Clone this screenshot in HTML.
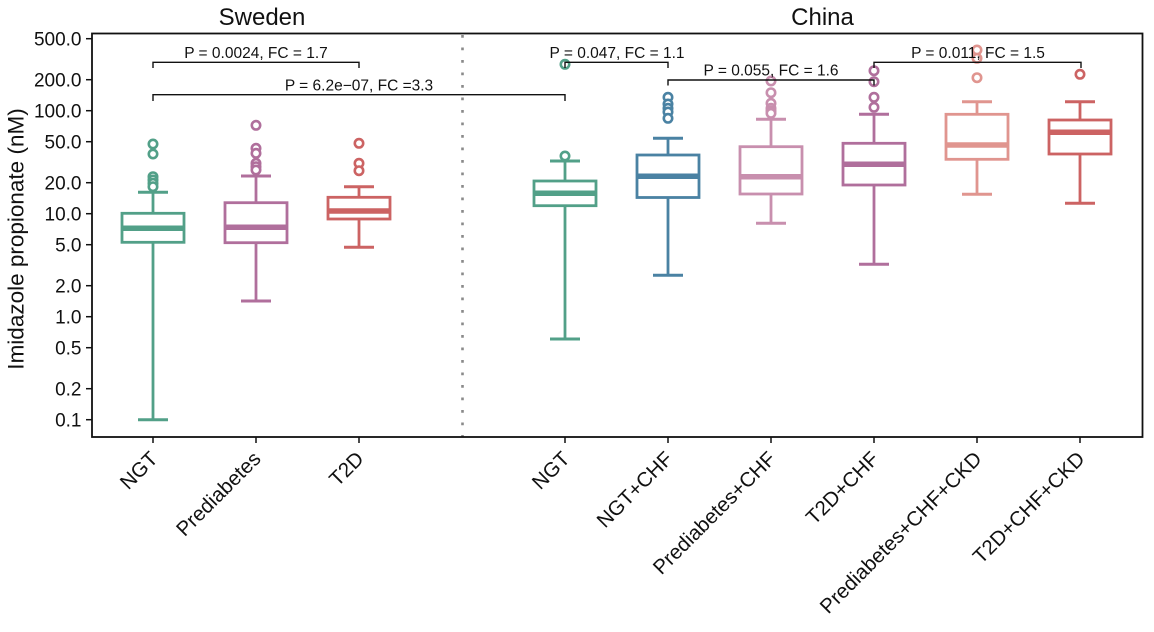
<!DOCTYPE html>
<html>
<head>
<meta charset="utf-8">
<style>
  html, body { margin: 0; padding: 0; background: #ffffff; }
  svg { display: block; font-family: "Liberation Sans", Arial, sans-serif; }
</style>
</head>
<body>
<svg width="1154" height="632" viewBox="0 0 1154 632" xmlns="http://www.w3.org/2000/svg">
  <rect x="0" y="0" width="1154" height="632" fill="#ffffff"/>

  <!-- Titles -->
  <text x="262" y="25" font-size="24" text-anchor="middle" fill="#111">Sweden</text>
  <text x="822.5" y="25" font-size="24" text-anchor="middle" fill="#111">China</text>

  <!-- Dotted separator -->
  <line x1="462.5" y1="35" x2="462.5" y2="437" stroke="#8a8a8a" stroke-width="2.6" stroke-dasharray="2.8 9.7"/>

  <!-- Boxes -->
  <g fill="#ffffff" stroke-width="2.8" stroke-linecap="butt">
    <!-- Sweden NGT -->
    <g stroke="#52a088">
      <line x1="153" y1="192.3" x2="153" y2="213.3"/>
      <line x1="153" y1="242.3" x2="153" y2="419.7"/>
      <line x1="138" y1="192.3" x2="168" y2="192.3" stroke-width="3"/>
      <line x1="138" y1="419.7" x2="168" y2="419.7" stroke-width="3"/>
      <rect x="122" y="213.3" width="62" height="29"/>
      <line x1="123" y1="228.3" x2="183" y2="228.3" stroke-width="5.5"/>
      <circle cx="153" cy="144" r="4.2" stroke-width="2.6"/>
      <circle cx="153" cy="154" r="4.2" stroke-width="2.6"/>
      <circle cx="153" cy="176.7" r="4.2" stroke-width="2.6"/>
      <circle cx="153" cy="180" r="4.2" stroke-width="2.6"/>
      <circle cx="153" cy="183.3" r="4.2" stroke-width="2.6"/>
      <circle cx="153" cy="186.7" r="4.2" stroke-width="2.6"/>
    </g>
    <!-- Sweden Prediabetes -->
    <g stroke="#b06f9c">
      <line x1="256" y1="176" x2="256" y2="202.7"/>
      <line x1="256" y1="242.7" x2="256" y2="301"/>
      <line x1="241" y1="176" x2="271" y2="176" stroke-width="3"/>
      <line x1="241" y1="301" x2="271" y2="301" stroke-width="3"/>
      <rect x="225" y="202.7" width="62" height="40"/>
      <line x1="226" y1="227.3" x2="286" y2="227.3" stroke-width="5.5"/>
      <circle cx="256" cy="125.3" r="4.2" stroke-width="2.6"/>
      <circle cx="256" cy="148.3" r="4.2" stroke-width="2.6"/>
      <circle cx="256" cy="153.3" r="4.2" stroke-width="2.6"/>
      <circle cx="256" cy="163.3" r="4.2" stroke-width="2.6"/>
      <circle cx="256" cy="166.7" r="4.2" stroke-width="2.6"/>
      <circle cx="256" cy="170" r="4.2" stroke-width="2.6"/>
    </g>
    <!-- Sweden T2D -->
    <g stroke="#cc6363">
      <line x1="359" y1="186.7" x2="359" y2="197.3"/>
      <line x1="359" y1="219" x2="359" y2="247.3"/>
      <line x1="344" y1="186.7" x2="374" y2="186.7" stroke-width="3"/>
      <line x1="344" y1="247.3" x2="374" y2="247.3" stroke-width="3"/>
      <rect x="328" y="197.3" width="62" height="21.7"/>
      <line x1="329" y1="211" x2="389" y2="211" stroke-width="5.5"/>
      <circle cx="359" cy="143.3" r="4.2" stroke-width="2.6"/>
      <circle cx="359" cy="163.3" r="4.2" stroke-width="2.6"/>
      <circle cx="359" cy="170.7" r="4.2" stroke-width="2.6"/>
    </g>
    <!-- China NGT -->
    <g stroke="#52a088">
      <line x1="565" y1="161" x2="565" y2="181"/>
      <line x1="565" y1="205.7" x2="565" y2="339"/>
      <line x1="550" y1="161" x2="580" y2="161" stroke-width="3"/>
      <line x1="550" y1="339" x2="580" y2="339" stroke-width="3"/>
      <rect x="534" y="181" width="62" height="24.7"/>
      <line x1="535" y1="193.3" x2="595" y2="193.3" stroke-width="5.5"/>
      <circle cx="565" cy="64.3" r="4.2" stroke-width="2.6"/>
      <circle cx="565" cy="156" r="4.2" stroke-width="2.6"/>
    </g>
    <!-- NGT+CHF -->
    <g stroke="#4a82a3">
      <line x1="668" y1="138.3" x2="668" y2="155"/>
      <line x1="668" y1="197.5" x2="668" y2="275.3"/>
      <line x1="653" y1="138.3" x2="683" y2="138.3" stroke-width="3"/>
      <line x1="653" y1="275.3" x2="683" y2="275.3" stroke-width="3"/>
      <rect x="637" y="155" width="62" height="42.5"/>
      <line x1="638" y1="176.3" x2="698" y2="176.3" stroke-width="5.5"/>
      <circle cx="668" cy="97.3" r="4.2" stroke-width="2.6"/>
      <circle cx="668" cy="104" r="4.2" stroke-width="2.6"/>
      <circle cx="668" cy="108.3" r="4.2" stroke-width="2.6"/>
      <circle cx="668" cy="112" r="4.2" stroke-width="2.6"/>
      <circle cx="668" cy="118.3" r="4.2" stroke-width="2.6"/>
    </g>
    <!-- Prediabetes+CHF -->
    <g stroke="#c88fae">
      <line x1="771" y1="119.3" x2="771" y2="146.7"/>
      <line x1="771" y1="194" x2="771" y2="223.3"/>
      <line x1="756" y1="119.3" x2="786" y2="119.3" stroke-width="3"/>
      <line x1="756" y1="223.3" x2="786" y2="223.3" stroke-width="3"/>
      <rect x="740" y="146.7" width="62" height="47.3"/>
      <line x1="741" y1="176.7" x2="801" y2="176.7" stroke-width="5.5"/>
      <circle cx="771" cy="81" r="4.2" stroke-width="2.6"/>
      <circle cx="771" cy="92.7" r="4.2" stroke-width="2.6"/>
      <circle cx="771" cy="103.3" r="4.2" stroke-width="2.6"/>
      <circle cx="771" cy="108.3" r="4.2" stroke-width="2.6"/>
      <circle cx="771" cy="111" r="4.2" stroke-width="2.6"/>
      <circle cx="771" cy="113.3" r="4.2" stroke-width="2.6"/>
    </g>
    <!-- T2D+CHF -->
    <g stroke="#b06f9c">
      <line x1="874" y1="114.3" x2="874" y2="143.3"/>
      <line x1="874" y1="185" x2="874" y2="264.3"/>
      <line x1="859" y1="114.3" x2="889" y2="114.3" stroke-width="3"/>
      <line x1="859" y1="264.3" x2="889" y2="264.3" stroke-width="3"/>
      <rect x="843" y="143.3" width="62" height="41.7"/>
      <line x1="844" y1="164.3" x2="904" y2="164.3" stroke-width="5.5"/>
      <circle cx="874" cy="70.7" r="4.2" stroke-width="2.6"/>
      <circle cx="874" cy="81.7" r="4.2" stroke-width="2.6"/>
      <circle cx="874" cy="97.3" r="4.2" stroke-width="2.6"/>
      <circle cx="874" cy="107.3" r="4.2" stroke-width="2.6"/>
    </g>
    <!-- Prediabetes+CHF+CKD -->
    <g stroke="#e0958f">
      <line x1="977" y1="101.7" x2="977" y2="114.3"/>
      <line x1="977" y1="159.3" x2="977" y2="194.3"/>
      <line x1="962" y1="101.7" x2="992" y2="101.7" stroke-width="3"/>
      <line x1="962" y1="194.3" x2="992" y2="194.3" stroke-width="3"/>
      <rect x="946" y="114.3" width="62" height="45"/>
      <line x1="947" y1="145" x2="1007" y2="145" stroke-width="5.5"/>
      <circle cx="977" cy="50" r="4.2" stroke-width="2.6"/>
      <circle cx="977" cy="58.3" r="4.2" stroke-width="2.6"/>
      <circle cx="977" cy="77.7" r="4.2" stroke-width="2.6"/>
    </g>
    <!-- T2D+CHF+CKD -->
    <g stroke="#cc6363">
      <line x1="1080" y1="101.7" x2="1080" y2="120"/>
      <line x1="1080" y1="154" x2="1080" y2="203.3"/>
      <line x1="1065" y1="101.7" x2="1095" y2="101.7" stroke-width="3"/>
      <line x1="1065" y1="203.3" x2="1095" y2="203.3" stroke-width="3"/>
      <rect x="1049" y="120" width="62" height="34"/>
      <line x1="1050" y1="132.3" x2="1110" y2="132.3" stroke-width="5.5"/>
      <circle cx="1080" cy="74.3" r="4.2" stroke-width="2.6"/>
    </g>
  </g>

  <!-- Significance brackets -->
  <g stroke="#111" stroke-width="1.4" fill="none">
    <polyline points="153,68 153,62.3 359,62.3 359,68"/>
    <polyline points="153,101 153,94.7 565,94.7 565,101"/>
    <polyline points="565,68 565,62.3 668,62.3 668,68"/>
    <polyline points="668,85.5 668,80 874,80 874,85.5"/>
    <polyline points="874,68 874,62.3 1081,62.3 1081,68"/>
  </g>
  <g font-size="15.5" fill="#111" text-anchor="middle">
    <text x="256" y="58">P = 0.0024, FC = 1.7</text>
    <text x="359" y="90.5">P = 6.2e−07, FC =3.3</text>
    <text x="617" y="58">P = 0.047, FC = 1.1</text>
    <text x="771" y="75.5">P = 0.055, FC = 1.6</text>
    <text x="978" y="58">P = 0.011, FC = 1.5</text>
  </g>

  <!-- Axes frame -->
  <rect x="92" y="33.5" width="1050.5" height="403.5" fill="none" stroke="#111" stroke-width="1.8"/>

  <!-- Y ticks -->
  <g stroke="#111" stroke-width="1.5">
    <line x1="86" y1="38.7" x2="92" y2="38.7"/>
    <line x1="86" y1="79.7" x2="92" y2="79.7"/>
    <line x1="86" y1="110.7" x2="92" y2="110.7"/>
    <line x1="86" y1="141.7" x2="92" y2="141.7"/>
    <line x1="86" y1="182.7" x2="92" y2="182.7"/>
    <line x1="86" y1="213.7" x2="92" y2="213.7"/>
    <line x1="86" y1="244.7" x2="92" y2="244.7"/>
    <line x1="86" y1="285.7" x2="92" y2="285.7"/>
    <line x1="86" y1="316.7" x2="92" y2="316.7"/>
    <line x1="86" y1="347.7" x2="92" y2="347.7"/>
    <line x1="86" y1="388.7" x2="92" y2="388.7"/>
    <line x1="86" y1="419.7" x2="92" y2="419.7"/>
  </g>
  <g font-size="19" fill="#111" text-anchor="end">
    <text x="81.5" y="45.5">500.0</text>
    <text x="81.5" y="86.5">200.0</text>
    <text x="81.5" y="117.5">100.0</text>
    <text x="81.5" y="148.5">50.0</text>
    <text x="81.5" y="189.5">20.0</text>
    <text x="81.5" y="220.5">10.0</text>
    <text x="81.5" y="251.5">5.0</text>
    <text x="81.5" y="292.5">2.0</text>
    <text x="81.5" y="323.5">1.0</text>
    <text x="81.5" y="354.5">0.5</text>
    <text x="81.5" y="395.5">0.2</text>
    <text x="81.5" y="426.5">0.1</text>
  </g>

  <!-- Y label -->
  <text transform="translate(23.5,239) rotate(-90)" font-size="22.5" text-anchor="middle" fill="#111">Imidazole propionate (nM)</text>

  <!-- X ticks -->
  <g stroke="#111" stroke-width="1.5">
    <line x1="153" y1="437" x2="153" y2="443"/>
    <line x1="256" y1="437" x2="256" y2="443"/>
    <line x1="359" y1="437" x2="359" y2="443"/>
    <line x1="565" y1="437" x2="565" y2="443"/>
    <line x1="668" y1="437" x2="668" y2="443"/>
    <line x1="771" y1="437" x2="771" y2="443"/>
    <line x1="874" y1="437" x2="874" y2="443"/>
    <line x1="977" y1="437" x2="977" y2="443"/>
    <line x1="1080" y1="437" x2="1080" y2="443"/>
  </g>
  <g font-size="20.5" fill="#111" text-anchor="end">
    <text transform="translate(159,460) rotate(-45)">NGT</text>
    <text transform="translate(262,460) rotate(-45)">Prediabetes</text>
    <text transform="translate(365,460) rotate(-45)">T2D</text>
    <text transform="translate(571,460) rotate(-45)">NGT</text>
    <text transform="translate(674,460) rotate(-45)">NGT+CHF</text>
    <text transform="translate(777,460) rotate(-45)">Prediabetes+CHF</text>
    <text transform="translate(880,460) rotate(-45)">T2D+CHF</text>
    <text transform="translate(983,460) rotate(-45)">Prediabetes+CHF+CKD</text>
    <text transform="translate(1086,460) rotate(-45)">T2D+CHF+CKD</text>
  </g>
</svg>
</body>
</html>
